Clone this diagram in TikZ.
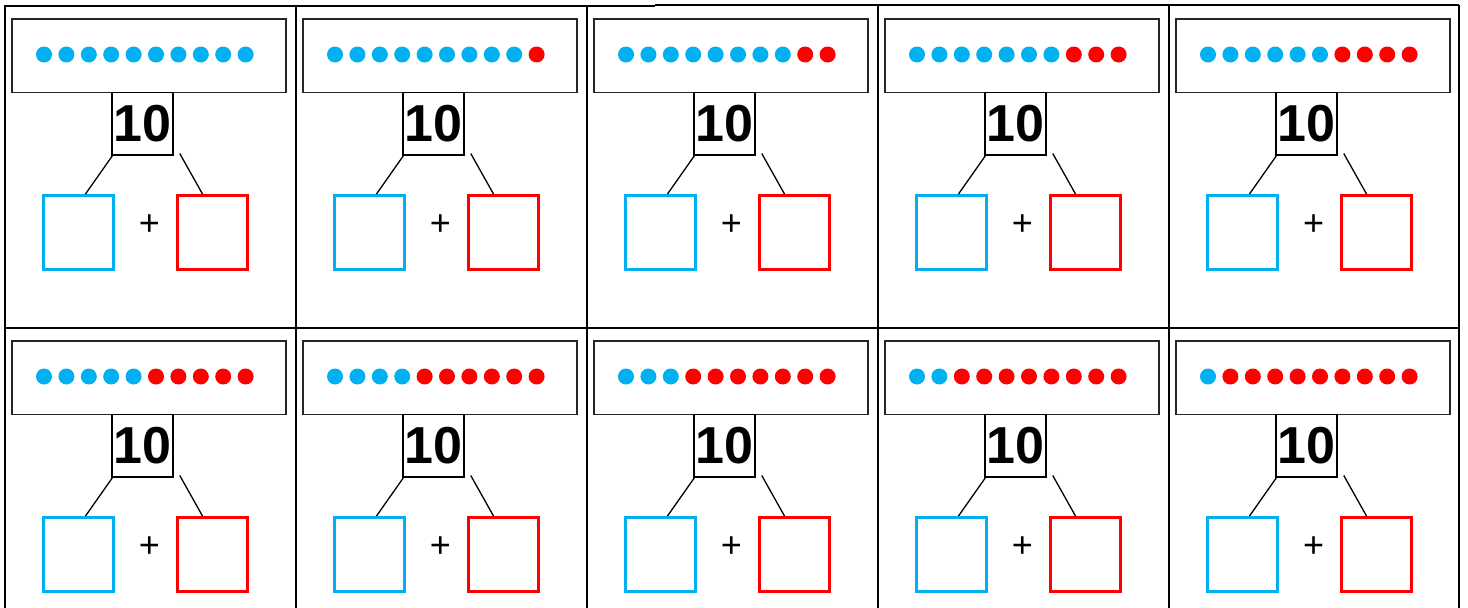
\documentclass[tikz,border=0pt]{standalone}
\usepackage{fontspec}
\setmainfont{Liberation Sans}
\usetikzlibrary{calc}
\definecolor{cblue}{HTML}{00B0F0}
\definecolor{cred}{HTML}{FF0000}
\tikzset{
  gridline/.style={line width=2pt,black},
  dotbox/.style={draw=black!85,line width=1.6pt},
  tenbox/.style={draw,line width=1.5pt,minimum width=61pt,minimum height=62.5pt,inner sep=0pt,font=\bfseries\fontsize{52}{52}\selectfont},
  partbox/.style={draw,line width=3pt,minimum width=70pt,minimum height=74pt,inner sep=0pt},
  plussign/.style={inner sep=0pt,font=\fontsize{36}{36}\selectfont},
  branch/.style={line width=1.3pt,black},
}
\begin{document}
\begin{tikzpicture}[x=1pt,y=-1pt]
\useasboundingbox (0,0) rectangle (1468,608);
% grid
\draw[gridline] (5,6) -- (655,6);
\draw[gridline] (655,5) -- (1459,5);
\foreach \gx in {5,296,587,878,1169,1459}{
  \draw[gridline] (\gx,5) -- (\gx,608);
}
\draw[gridline] (5,328) -- (1459,328);
% cells
\foreach \j in {0,1}{
  \foreach \i in {0,...,4}{
    \pgfmathsetmacro{\ox}{5+291*\i}
    \pgfmathsetmacro{\oy}{6+322*\j}
    \pgfmathtruncatemacro{\nred}{\i+5*\j}
    \pgfmathtruncatemacro{\nblue}{10-\nred}
    \draw[dotbox] (\ox+7,\oy+13) rectangle (\ox+281,\oy+86.5);
    \foreach \k in {1,...,10}{
      \ifnum\k>\nblue
        \fill[cred] (\ox+39+22.4*\k-22.4,\oy+48.5) circle (8);
      \else
        \fill[cblue] (\ox+39+22.4*\k-22.4,\oy+48.5) circle (8);
      \fi
    }
    \node[tenbox] (ten\i\j) at (\ox+137.5,\oy+117.5) {10};
    \node[partbox,draw=cblue] (blue\i\j) at (\ox+73,\oy+226.5) {};
    \node[partbox,draw=cred] (red\i\j) at (\ox+207,\oy+226.5) {};
    \node[plussign] (plus\i\j) at (\ox+144.5,\oy+219) {+};
    \draw[branch] ($(ten\i\j.south west)+(2,-1)$) -- ($(blue\i\j.north west)+(44,0)$);
    \draw[branch] ($(ten\i\j.south east)+(6,-2)$) -- ($(red\i\j.north west)+(27,0)$);
  }
}
\end{tikzpicture}
\end{document}
